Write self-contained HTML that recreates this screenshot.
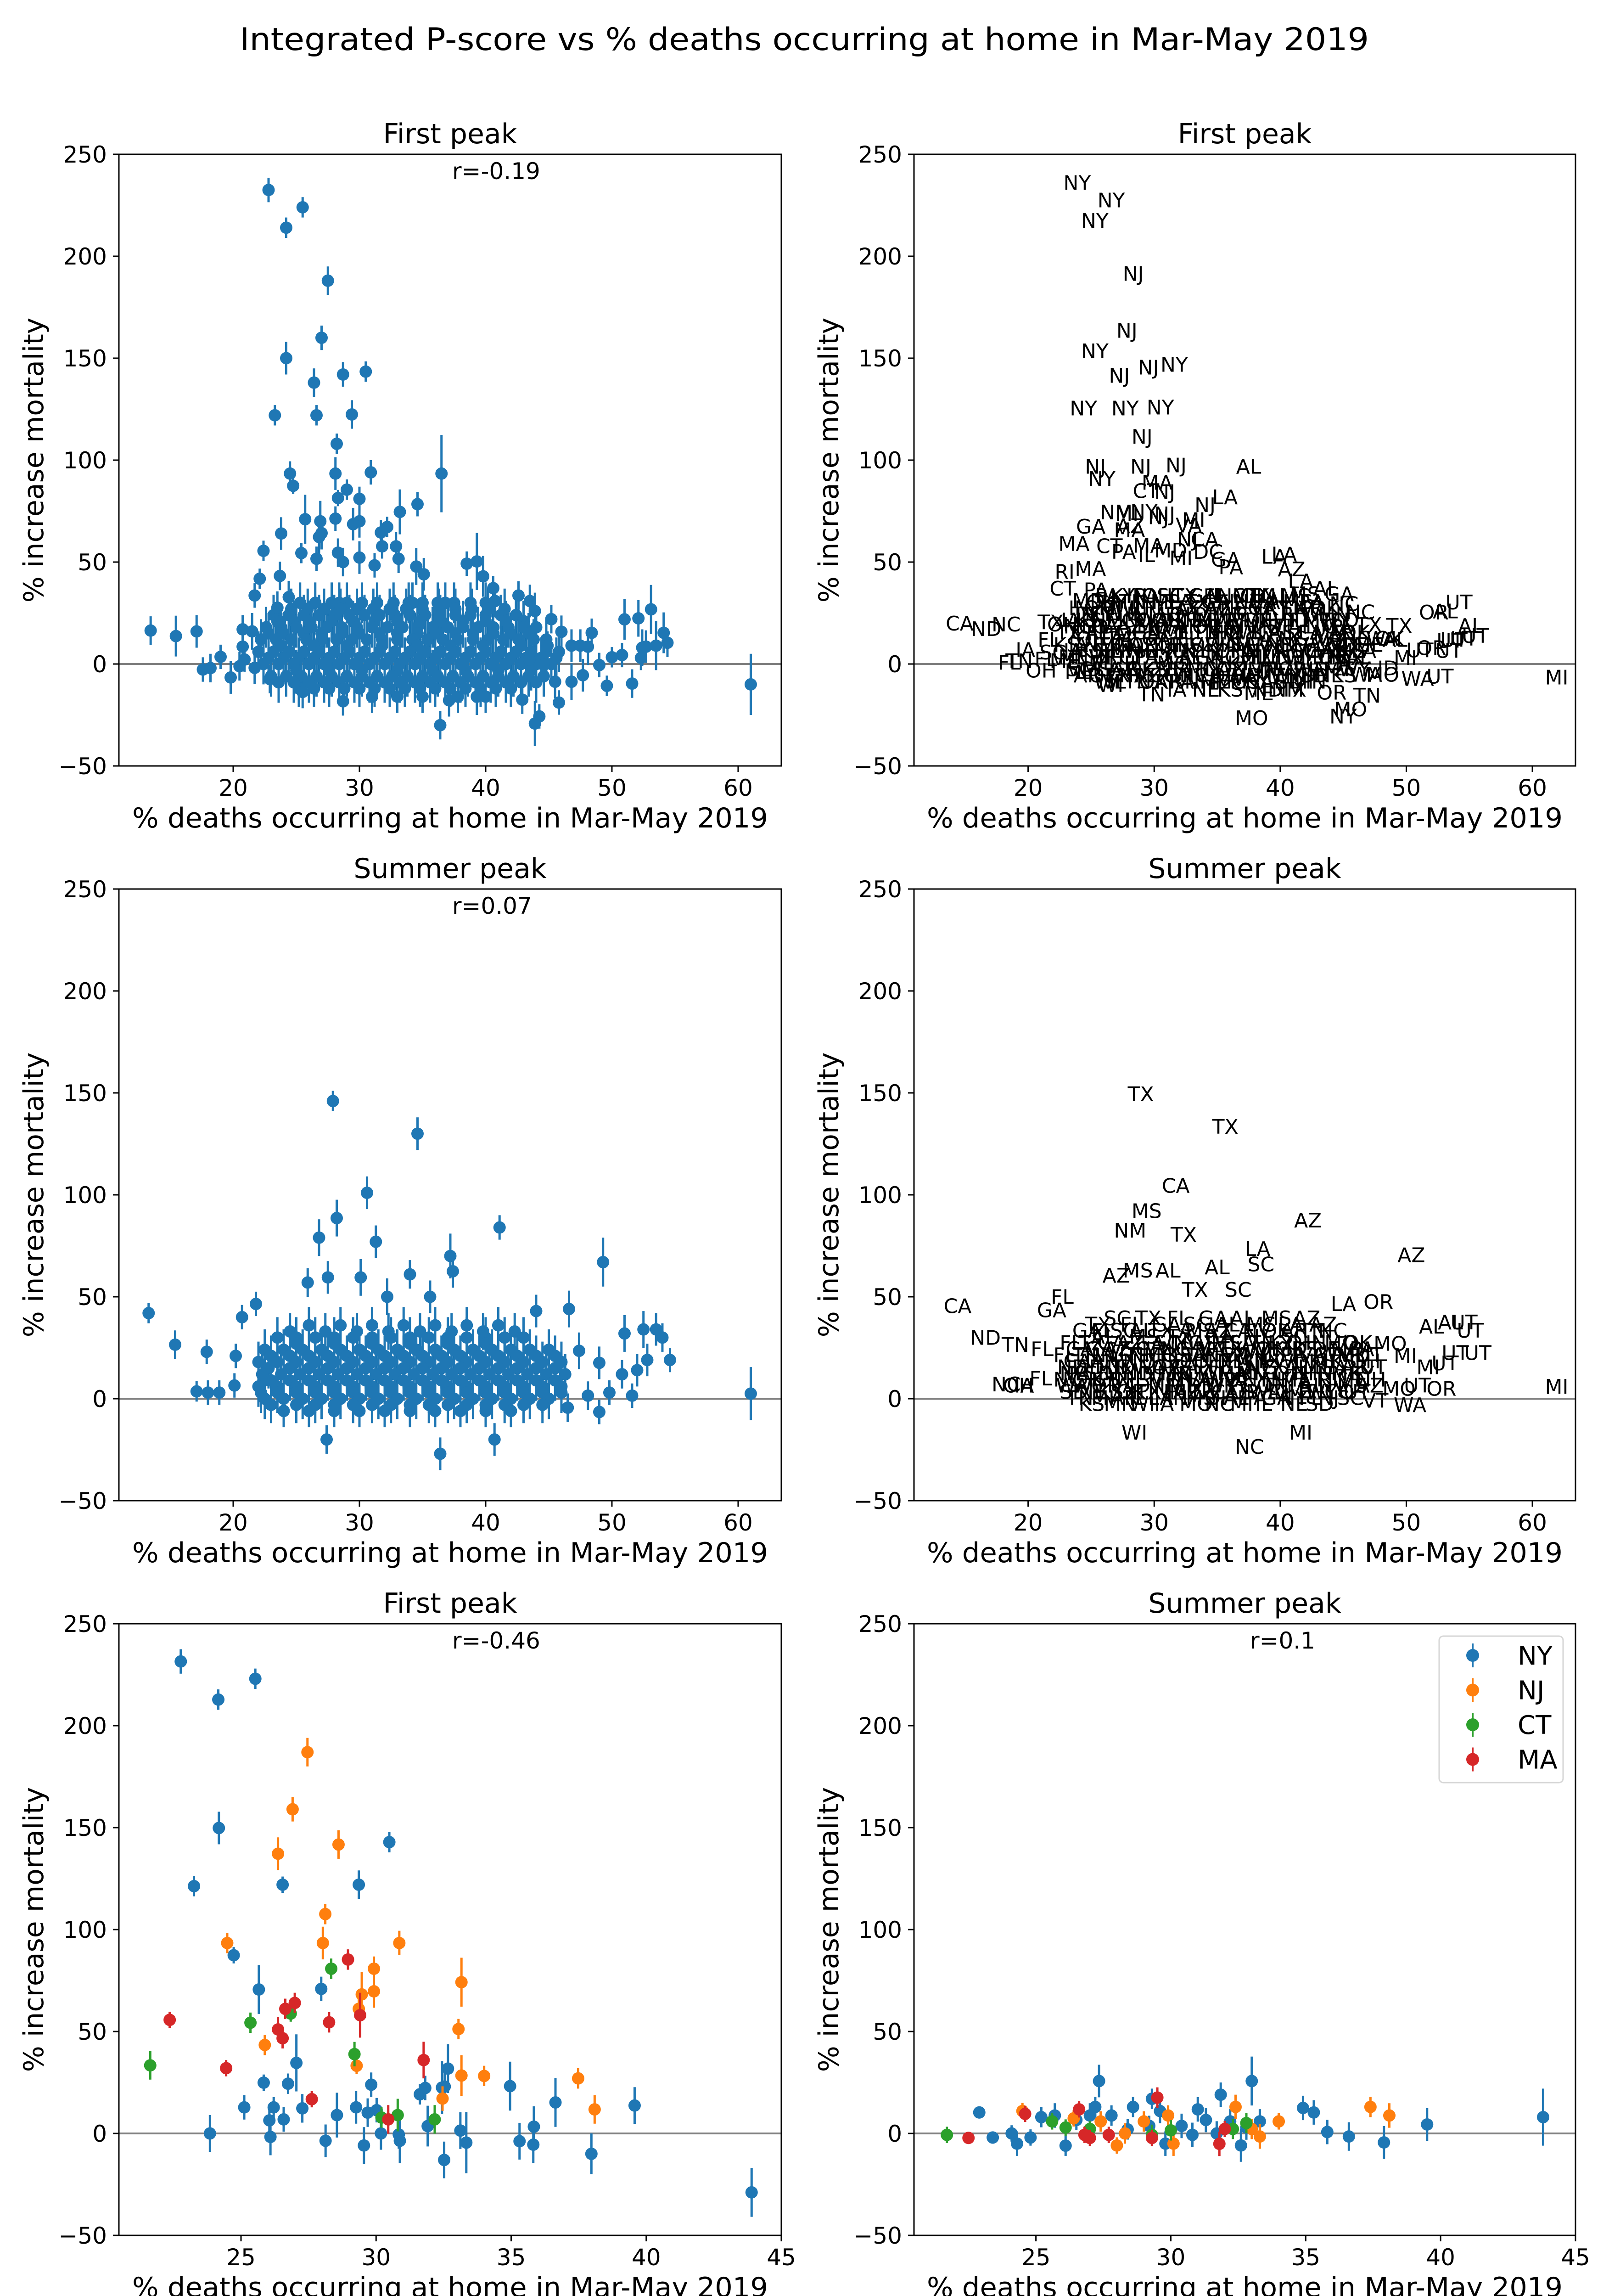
<!DOCTYPE html>
<html><head><meta charset="utf-8"><title>Integrated P-score vs % deaths at home</title>
<style>html,body{margin:0;padding:0;background:#fff;width:3505px;height:5057px;overflow:hidden}svg{display:block}text{font-family:"DejaVu Sans","Liberation Sans",sans-serif}</style>
</head><body>
<svg id="fig" xmlns="http://www.w3.org/2000/svg" width="3505" height="5057" viewBox="0 0 3505 5057">
<rect width="3505" height="5057" fill="#fff"/>
<text x="1752" y="109" font-size="68" text-anchor="middle" textLength="2460" lengthAdjust="spacingAndGlyphs">Integrated P-score vs % deaths occurring at home in Mar-May 2019</text>
</svg>
<script>
// ---------- DATA ----------
const firstOutliers = [
"13.46 16.4 7 CA","15.46 13.7 10 ND","17.1 16 8 NC","17.6 -2.7 6 FL","18.2 -2 7 TN","19 3.5 6 IA","19.8 -6.6 8 OH",
"22.8 232.5 6 NY","25.5 224 5 NY","24.2 214 5 NY","27.5 188 7 NJ","27 160 6 NJ","24.2 150 8 NY","26.4 138 7 NJ","28.7 142 6 NJ","30.5 143.4 5 NY",
"23.3 122 5 NY","26.6 122 5 NY","29.4 122.4 7 NY","28.2 108 5 NJ","24.5 93.4 6 NJ","24.75 87.4 4 NY","28.1 93.4 8 NJ","30.9 94 6 NJ","36.5 93.4 19 AL",
"29 85.5 5 MA","28.3 81.4 4 CT","30 81 6 NJ","34.6 78.4 6 LA","33.2 74.6 11 NJ","23.8 64 8 GA","25.7 71 12 NM","26.9 70 10 MI","28.1 71.3 6 NY","30 70 8 NJ",
"29.5 68.6 8 NJ","31.7 64.5 6 VA","32.2 67.2 5 MI","26.8 62.3 9 MA","27 64.2 8 AZ","22.4 55.5 5 MA","25.4 54.4 5 CT","28.3 54.6 7 MA","26.6 51.6 6 PA",
"28.7 50 7 IL","30 52.2 8 MD","31.8 57.7 6 NJ","32.9 57.7 7 CA","31.2 48.4 6 MI","33.1 51.6 7 DC","34.5 47.8 9 GA","35.1 44 8 PA","38.5 49.2 6 LA",
"39.3 50.3 14 LA","39.8 43 10 AZ","40.6 37.2 6 LA","22.1 41.8 5 RI","21.7 33.6 6 CT","23.7 43.2 7 MA","23.5 27.6 8 MD","23.7 20.8 8 IN","24.4 32.8 8 PA",
"40.75 30.9 8 MS","42.6 33.6 7 AL","43.5 30.9 8 GA","43.9 26 9 NC","45.2 22 7 NC","46 15.8 8 TX","48.4 15.3 7 TX","46.8 9 8 WA","47.5 9 8 OK","48.1 8.5 9 AL",
"49 -0.5 6 MI","50 3.3 5 UT","50.8 4.4 6 OR","51 21.9 10 OR","52.1 22.4 9 AL","53.1 26.8 12 UT","52.4 8 9 UT","52.7 8.5 8 UT","53.5 9 12 UT","54.1 15.3 10 AL",
"54.4 10.4 7 UT","52.3 3 6 UT","49.6 -10.7 5 WA","51.6 -9.6 7 UT","61 -10 15 MI","45.8 -18.9 6 TN","44.25 -25.7 6 MO","43.9 -29.2 11 NY","36.4 -30 7 MO",
"42.9 -17.5 7 OR","39.3 -16 9 NM","37.1 -17.8 8 ME","28.7 -18.3 7 TN","25.5 -13.7 8 WI","45.5 -8.7 8 WA","46.8 -8.7 9 MO","47.7 -5.5 8 ID",
"20.75 8.5 6 FL","20.9 2.2 6 SC","20.5 -1.1 7 FL","21.7 -1.9 8 ME","20.75 17 7 TX","21.5 16 9 OH","22.9 -7.4 7 ME","43.45 2.2 8 VA","44.9 9 7 NC","44.6 -0.5 8 TX"
];
const firstCore = [
"30 10|25.3:PA 26.5:KY 27.8:IN 29:OH 30.2:SC 31.4:TX 32.7:GA 33.9:FL 35:NC 36.2:MO 37.5:TN 38.8:AL 40:MS 36.8:OK 34.2:IL 28.4:PA",
"27 10|24.6:OH 25.9:KY 27.2:TN 28.5:IN 29.8:MI 31.1:PA 32.4:TX 33.7:GA 35:FL 36.3:NC 37.6:VA 38.9:AL 40.2:MS 41.5:LA",
"24 10|23.2:IN 24.4:OH 25.6:MI 26.8:WI 28:IL 29.2:FL 30.4:GA 31.6:TX 32.8:CA 34:AZ 35.2:NC 36.4:SC 37.6:VA 38.8:KY 40:TN 41.2:AR 42.4:OK",
"21 10|26:WV 29.5:MD 33:DE 36.5:CT 40:RI 23.5:TN 24.8:KY 27.8:IN 31.2:OH 34.8:MI 38.2:IL 41.6:WI 43:MN",
"18 10|22.6:IA 23.8:KS 25:NE 26.2:MN 27.4:CO 28.6:WA 29.8:OR 31:UT 32.2:NV 33.4:NM 34.6:WV 35.8:MD 37:ME 38.2:NH 39.4:VT 40.6:ID 41.8:MT 43:WY 44:SD",
"15 10|24:CO 27:AZ 30:WA 33:OR 36:NV 39:UT 42:NM 22.8:MN 25.6:IA 28.6:MO 31.6:AR 34.6:LA 37.6:MS 40.6:AL 43.4:GA",
"12 10|22.2:TX 23.4:CA 24.6:FL 25.8:PA 27:OH 28.2:GA 29.4:NC 30.6:MI 31.8:IL 33:TN 34.2:MO 35.4:IN 36.6:WI 37.8:KY 39:AL 40.2:SC 41.4:LA 42.6:MS 43.8:AR 44.8:OK",
"9 10|23.8:OH 26.4:PA 29:GA 31.8:FL 34.6:TX 37.2:CA 39.8:NC 42.8:VA",
"6 10|22:KS 23.2:IA 24.4:NE 25.6:MN 26.8:CO 28:AZ 29.2:NM 30.4:UT 31.6:NV 32.8:OR 34:WA 35.2:ID 36.4:MT 37.6:WY 38.8:ND 40:SD 41.2:VA 42.4:WV 43.6:MD 44.8:DE 45.8:ME",
"3 10|22.8:IA 24:KS 25.2:NE 26.4:MN 27.6:WI 28.8:IL 30:MO 31.2:TN 32.4:KY 33.6:IN 34.8:OH 36:PA 37.2:NY 38.4:VA 39.6:NC 40.8:SC 42:GA 43.2:AL 44.4:MS 45.6:LA",
"0 10|22.4:ME 23.6:NH 24.8:VT 26:RI 27.2:CT 28.4:PA 29.6:TX 30.8:CA 32:FL 33.2:GA 34.4:NC 35.6:OH 36.8:MI 38:IL 39.2:IN 40.4:WI 41.6:MO 42.8:TN 44:KY 45.2:AL",
"-3 10|25:MI 27.6:IL 30.2:MO 33:TN 35.8:KY 38.4:AL 41:SC 43.6:LA",
"-6 10|23:SC 24.2:MS 25.4:LA 26.6:AR 27.8:OK 29:KS 30.2:NE 31.4:IA 32.6:MN 33.8:CO 35:AZ 36.2:NM 37.4:UT 38.6:NV 39.8:OR 41:WA 42.2:ID 43.4:MT 44.6:WY",
"-9 10|23.6:AR 24.8:OK 26:TX 27.2:NM 28.4:AZ 29.6:CO 30.8:UT 32:NV 33.2:CA 34.4:OR 35.6:WA 36.8:ID 38:MT 39.2:WY 40.4:ND 41.6:SD 42.8:NE 44:KS",
"-12 9|25.2:WI 26.4:IL 27.6:TN 28.8:OK 30:AR 31.2:PA 32.4:NH 33.6:ME 34.8:MO 36:MS 37.2:KY 38.4:AL 39.6:SD 40.8:MI 42:IN",
"-16 8|31:IA 33:NE 35:KS 37.8:ND 40:TX"
];
const summerOutliers = [
"13.3 42 5 CA","15.4 26.5 7 ND","17.1 3.6 5 NC","18 3 6 OH","18.9 3 6 IA","20.1 6.5 6 FL","20.2 21 6 FL","17.9 23 6 TN","20.7 40 6 GA","21.8 46.5 6 FL",
"27.9 146 5 TX","34.6 130 8 TX","30.6 101 8 CA","28.2 88.6 9 MS","26.8 79 9 NM","31.3 77 8 TX","41.1 84 6 AZ","49.3 67 12 AZ","30.1 59.5 9 AL","37.2 70 11 LA",
"34 61 7 AL","37.4 62.5 8 SC","25.9 57 7 AZ","27.5 59.5 8 MS","32.2 50 9 TX","35.6 50 8 SC","44 43 8 LA","46.6 44 9 OR","52.5 34 9 AL","53.5 34 8 UT",
"54 30 7 UT","54.6 19 6 UT","52.8 19 8 UT","52 14 8 UT","51 32 9 AL","50.8 12 7 MI","51.6 1.5 6 OR","49.8 3 6 UT","48.1 1.5 7 MO","49 -6.5 6 WA",
"46.5 -4.4 7 VT","40.7 -20 8 MI","27.4 -20 7 WI","36.4 -27 8 NC","61 2.5 13 MI","49 17.6 8 MI","47.4 23.5 9 MO"
];
const summerCore = [
"36 9|26:SC 28.5:TX 31:FL 33.5:GA 36:AL 38.5:MS 41:AZ",
"33 9|24.5:TX 27.3:FL 29.8:GA 32.3:SC 34.8:AL 37.3:MS 39.8:LA 42.3:AZ",
"30 10|23.5:GA 25:FL 26.5:SC 28:AL 29.5:TX 31:LA 32.5:MS 34:AZ 35.5:CA 37:NV 38.5:OK 40:AR 41.5:TN 43:NC",
"27 10|25:AL 28:MS 31:TX 34:GA 37:FL 40:SC",
"24 10|22.5:FL 24:TX 25.5:CA 27:AZ 28.5:GA 30:SC 31.5:NC 33:AL 34.5:MS 36:LA 37.5:TN 39:KY 40.5:OH 42:IN 43.5:MO 45:OK",
"21 10|23:CA 26:AZ 29:NV 32:NM 35:TX 38:OK 41:KS 44:MO 24.5:GA 27.5:SC 30.5:NC 33.5:VA 36.5:WV 39.5:MD 42.5:DE 45.5:PA",
"18 10|22:FL 23.5:TN 25:NV 26.5:UT 28:NM 29.5:CO 31:KS 32.5:IA 34:NE 35.5:WI 37:MI 38.5:IL 40:PA 41.5:VA 43:WV 44.5:MD 46:UT",
"15 10|24.5:IA 27.5:NE 30.5:SD 33.5:ND 36.5:MN 39.5:WI 42.5:MI 45.5:OH 22.8:CA 26:NV 29:UT 32:CO 35:NM 38:TX 41:OK 44:KS",
"12 10|22.3:ND 23.8:SD 25.3:MT 26.8:ID 28.3:WA 29.8:OR 31.3:CA 32.8:TX 34.3:FL 35.8:GA 37.3:NC 38.8:SC 40.3:AL 41.8:MS 43.3:LA 44.8:AR 46.3:UT",
"9 10|23:PA 26:NY 29:NJ 32:CT 35:MA 38:VT 41:NH 44:ME 22.5:NE 24.5:SD 27.5:ND 30.5:MN 33.5:WI 36.5:MI 39.5:OH 42.5:IN 45.5:KY",
"6 10|22:NC 23.5:OH 25:KY 26.5:IN 28:IL 29.5:MO 31:TN 32.5:VA 34:WV 35.5:PA 37:NY 38.5:NJ 40:MA 41.5:CT 43:RI 44.5:ME 46:NH",
"3 10|23.5:WV 26.5:VA 29.5:MD 32.5:DE 35.5:KY 38.5:TN 41.5:AL 44.5:MS 22.2:WA 25:OR 28:ID 31:MT 34:WY 37:CO 40:UT 43:NV 46:AZ",
"0 10|22.5:SD 24:NE 25.5:KS 27:OK 28.5:TX 30:NM 31.5:AZ 33:NV 34.5:CA 36:OR 37.5:WA 39:ID 40.5:MT 42:WY 43.5:CO 45:UT",
"-3 9|25:MI 28:IL 31:IN 34:OH 37:PA 40:NY 43:NJ 23:TN 26.5:AR 29.5:LA 32.5:MS 35.5:AL 38.5:GA 41.5:FL 44.5:SC",
"-6 8|24:KS 26:MN 28:WI 30:IA 32:MO 34:NC 36:MI 38:IL 40:NE 42:SD"
];
const nyFirst = ["22.77 231.5 6","25.53 223 5","24.16 212.8 5","24.18 149.8 8","30.49 142.9 5","23.26 121.3 5","26.54 122 4","29.36 122 7","24.73 87.4 4","25.66 70.6 12",
"27.97 70.9 6","27.05 34.6 14","25.84 24.9 4","26.74 24.4 5","29.82 23.9 6","25.12 12.8 6","26.21 12.8 5","27.27 12.3 7","29.26 12.8 8","29.69 10.2 7","30.02 11.4 6",
"26.05 6.4 6","26.58 6.9 6","23.85 0 9","28.55 9 11","30.18 0 8","30.84 -0.5 7","26.09 -1.7 9","28.13 -3.6 8","29.55 -5.9 9","30.88 -3.6 11","31.62 19.2 5",
"31.82 22.3 6","32.44 22.5 13","32.66 31.8 12","32.54 23 8","31.91 3.6 10","33.12 1.4 9","32.52 -13 9","33.34 -4.5 15","34.96 23.2 12","35.31 -3.8 9",
"35.84 3.3 10","35.82 -5.5 9","36.64 15.2 12","37.97 -10 10","39.57 13.7 9","43.9 -28.9 12"];
const njFirst = ["27.46 187 7","26.91 159 6","26.37 137.2 8","28.61 141.7 7","28.12 107.6 5","28.03 93.4 8","24.49 93.4 5","30.86 93.4 6","29.92 80.8 6","29.92 69.7 8",
"29.47 68.2 11","29.36 61.1 5","33.16 74.2 12","33.05 51.2 5","25.88 43.4 5","29.28 33.2 4","33.16 28.4 10","34 28.2 5","37.48 27 5","38.09 11.8 7","32.46 17.1 6"];
const ctFirst = ["21.64 33.4 7","25.35 54.3 5","26.84 58.8 4","28.34 80.8 5","29.2 38.9 6","30.2 7.8 5","30.8 9 8","32.17 6.9 7"];
const maFirst = ["22.36 55.7 4","24.45 32 4","26.37 51 6","26.54 46.7 5","26.64 61.1 5","26.99 64 5","27.62 16.8 4","28.26 54.5 5","28.96 85.3 5","29.41 58 11","30.45 6.9 7","31.76 36 9"];
const nySummer = ["22.9 10.3 3","23.4 -2 3","24.1 0 4","24.3 -5 6","24.8 -2 4","25.2 8 5","25.7 8.8 6","26.1 -6 5","26.5 6.6 5","27 8.8 6","27.34 25.7 8","27.2 13 5",
"27.8 8.8 5","28.4 2 5","28.6 13 5","29.3 17 5","29.6 11 6","30.4 3.7 6","30.8 -0.7 6","31 11.8 6","31.3 6.6 6","31.85 19 6","32.2 5.9 6","32.6 -5.9 8",
"32.8 2.9 6","33 25.7 12","33.3 5.9 6","34.9 12.5 6","35.3 10.3 6","35.8 0.7 6","36.6 -1.5 7","37.9 -4.4 8","39.5 4.4 8","43.8 8 14","29.2 3.7 5","29.8 -5 6","31.7 0 6"];
const njSummer = ["24.5 11 4","26.4 7.4 4","27.4 5.9 5","28 -5.9 4","28.3 0 5","29 5.9 5","29.9 8.8 5","30.1 -5 6","32.4 13 6","33.3 -1.5 6","34 5.9 4","37.4 13 5","38.1 8.8 6","33 2.2 5"];
const ctSummer = ["21.7 -0.7 4","25.6 5.9 4","27 2.2 4","29.3 -0.7 5","32.3 2.2 5","32.8 5.1 5","26.1 2.9 4","30 1.5 5"];
const maSummer = ["22.5 -2.2 3","24.6 9.6 4","26.6 11.8 4","27 -2.2 4","27.7 -0.7 4","29.5 17.6 5","29.3 -2.2 4","31.8 -5.1 6","32 2.2 4","26.8 -0.7 4"];
const yTicks = [-50, 0, 50, 100, 150, 200, 250];
const xTicksWide = [20, 30, 40, 50, 60];
const xTicksNarrow = [25, 30, 35, 40, 45];
const legendStates = ["NY", "NJ", "CT", "MA"];
const corrLabels = ["r=-0.19", "r=0.07", "r=-0.46", "r=0.1"];

// ---------- RENDER ----------
const NS = "http://www.w3.org/2000/svg";
const svg = document.getElementById("fig");
const BLUE = "#1f77b4", ORANGE = "#ff7f0e", GREEN = "#2ca02c", RED = "#d62728";
function mk(tag, attrs, parent) { const e = document.createElementNS(NS, tag); for (const k in attrs) e.setAttribute(k, attrs[k]); (parent || svg).appendChild(e); return e; }
function parseOut(arr) { return arr.map(s => { const p = s.split(" "); return { x: +p[0], y: +p[1], e: +p[2], l: p[3] || "" }; }); }
function parseCore(arr) { const out = []; arr.forEach(r => { const [h, b] = r.split("|"); const [y, e] = h.split(" ").map(Number); b.split(" ").forEach(t => { const [x, l] = t.split(":"); out.push({ x: +x, y: y, e: e, l: l }); }); }); return out; }
function parseSimple(arr) { return arr.map(s => { const p = s.split(" ").map(Number); return { x: p[0], y: p[1], e: p[2] }; }); }

const COLX = [[259, 1702], [1991, 3432]];
const ROWY = [[336, 1668], [1936, 3268], [3536, 4868]];

function axes(col, row, xmin, xmax, xticks, title, name) {
  const [L, R] = COLX[col], [T, B] = ROWY[row];
  const g = mk("g", {});
  
  
  const sx = v => L + (v - xmin) / (xmax - xmin) * (R - L);
  const sy = v => B - (v + 50) / 300 * (B - T);
  const ttl = mk("text", { x: (L + R) / 2, y: T - 24, "font-size": 60, "text-anchor": "middle" }, g);
  ttl.textContent = title;
  
  
  const zl = mk("line", { x1: L, x2: R, y1: sy(0), y2: sy(0), stroke: "#808080", "stroke-width": 4 }, g);
  
  
  yTicks.forEach(v => {
    const tk = mk("line", { x1: L - 13, x2: L, y1: sy(v), y2: sy(v), stroke: "#000", "stroke-width": 3 }, g);
    
    
    const t = mk("text", { x: L - 26, y: sy(v) + 18, "font-size": 50, "text-anchor": "end" }, g);
    t.textContent = v < 0 ? "\u2212" + Math.abs(v) : String(v);
    
    
  });
  xticks.forEach(v => {
    const tk = mk("line", { x1: sx(v), x2: sx(v), y1: B, y2: B + 13, stroke: "#000", "stroke-width": 3 }, g);
    
    
    const t = mk("text", { x: sx(v), y: B + 65, "font-size": 50, "text-anchor": "middle" }, g);
    t.textContent = String(v);
    
    
  });
  const xl = mk("text", { x: (L + R) / 2, y: B + 134, "font-size": 60, "text-anchor": "middle", textLength: 1385, lengthAdjust: "spacingAndGlyphs" }, g);
  xl.textContent = "% deaths occurring at home in Mar-May 2019";
  
  
  const yx = L - 165, yc = (T + B) / 2;
  const yl = mk("text", { x: yx, y: yc, "font-size": 60, "text-anchor": "middle", transform: `rotate(-90 ${yx} ${yc})` }, g);
  yl.textContent = "% increase mortality";
  
  
  const plot = mk("g", {}, g);
  
  
  const frame = mk("rect", { x: L, y: T, width: R - L, height: B - T, fill: "none", stroke: "#000", "stroke-width": 3 }, g);
  
  
  return { g, plot, sx, sy, L, R, T, B };
}

function errPoints(ax, pts, color, nm) {
  const sg = mk("g", {}, ax.plot);
  
  
  pts.forEach(p => {
    const ln = mk("line", { x1: ax.sx(p.x), x2: ax.sx(p.x), y1: ax.sy(p.y - p.e), y2: ax.sy(p.y + p.e), stroke: color, "stroke-width": 5 }, sg);
    
    
  });
  pts.forEach(p => {
    const c = mk("circle", { cx: ax.sx(p.x), cy: ax.sy(p.y), r: 13.5, fill: color }, sg);
    
    
  });
}
function labelPoints(ax, pts, nm) {
  const sg = mk("g", {}, ax.plot);
  
  
  pts.forEach(p => {
    const t = mk("text", { x: ax.sx(p.x), y: ax.sy(p.y), "font-size": 44 }, sg);
    t.textContent = p.l;
    
    
  });
}
function corr(ax, txt, x) {
  const t = mk("text", { x: x, y: ax.T + 54, "font-size": 50 }, ax.g);
  t.textContent = txt;
  
  
}

const firstAll = parseCore(firstCore).concat(parseOut(firstOutliers));
const summerAll = parseCore(summerCore).concat(parseOut(summerOutliers));

const a1 = axes(0, 0, 10.945, 63.42, xTicksWide, "First peak", "first-peak-scatter");
errPoints(a1, firstAll, BLUE, "first-peak-series");
corr(a1, corrLabels[0], 985);
const a2 = axes(1, 0, 10.945, 63.42, xTicksWide, "First peak", "first-peak-state-labels");
labelPoints(a2, firstAll, "first-peak-labels");
const a3 = axes(0, 1, 10.945, 63.42, xTicksWide, "Summer peak", "summer-peak-scatter");
errPoints(a3, summerAll, BLUE, "summer-peak-series");
corr(a3, corrLabels[1], 985);
const a4 = axes(1, 1, 10.945, 63.42, xTicksWide, "Summer peak", "summer-peak-state-labels");
labelPoints(a4, summerAll, "summer-peak-labels");
const a5 = axes(0, 2, 20.48, 45.0, xTicksNarrow, "First peak", "northeast-first-peak");
errPoints(a5, parseSimple(nyFirst), BLUE, "series-ny");
errPoints(a5, parseSimple(njFirst), ORANGE, "series-nj");
errPoints(a5, parseSimple(ctFirst), GREEN, "series-ct");
errPoints(a5, parseSimple(maFirst), RED, "series-ma");
corr(a5, corrLabels[2], 985);
const a6 = axes(1, 2, 20.48, 45.0, xTicksNarrow, "Summer peak", "northeast-summer-peak");
errPoints(a6, parseSimple(nySummer), BLUE, "series-ny");
errPoints(a6, parseSimple(njSummer), ORANGE, "series-nj");
errPoints(a6, parseSimple(ctSummer), GREEN, "series-ct");
errPoints(a6, parseSimple(maSummer), RED, "series-ma");
corr(a6, corrLabels[3], 2723);

const lg = mk("g", {});


const lbox = mk("rect", { x: 3135, y: 3563, width: 270, height: 319, rx: 9, fill: "#fff", stroke: "#d6d6d6", "stroke-width": 3 }, lg);


const lcolors = [BLUE, ORANGE, GREEN, RED];
legendStates.forEach((s, i) => {
  const cy = 3605 + i * 75.5;
  const eg = mk("g", {}, lg);
  
  
  mk("line", { x1: 3208, x2: 3208, y1: cy - 26, y2: cy + 26, stroke: lcolors[i], "stroke-width": 4 }, eg);
  mk("circle", { cx: 3208, cy: cy, r: 14, fill: lcolors[i] }, eg);
  const t = mk("text", { x: 3306, y: cy + 20, "font-size": 56 }, eg);
  t.textContent = s;
  
  
});
</script>
</body></html>
